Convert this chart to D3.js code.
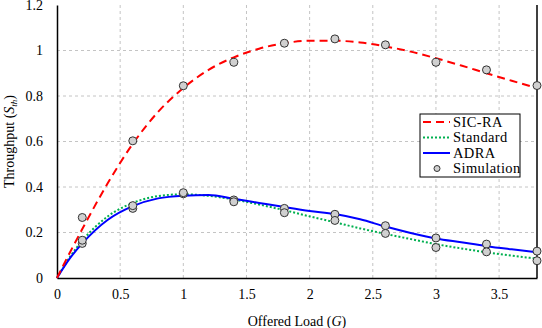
<!DOCTYPE html>
<html>
<head>
<meta charset="utf-8">
<script src="https://cdn.jsdelivr.net/npm/d3@7.9.0/dist/d3.min.js"></script>
<style>
  body { margin: 0; background: #fff; }
  svg { display: block; }
  svg text { font-family: 'Liberation Serif', 'DejaVu Serif', serif; }
</style>
</head>
<body>
<svg id="chart" width="542" height="328"></svg>
<script>
// curve values
const loadG = [0, 0.1, 0.2, 0.4, 0.6, 0.8, 1.0, 1.2, 1.4, 1.6, 1.8, 2.0, 2.2, 2.4, 2.6, 2.8, 3.0, 3.2, 3.4, 3.6, 3.8];
const sicRA = [0, 0.11, 0.215, 0.415, 0.59, 0.73, 0.835, 0.915, 0.97, 1.008, 1.032, 1.043, 1.043, 1.035, 1.018, 0.995, 0.966, 0.934, 0.9, 0.867, 0.835];
const standard = [0, 0.091, 0.164, 0.27, 0.33, 0.36, 0.368, 0.361, 0.345, 0.323, 0.298, 0.271, 0.245, 0.218, 0.194, 0.171, 0.149, 0.13, 0.113, 0.098, 0.085];
const adra = [0, 0.085, 0.152, 0.255, 0.316, 0.35, 0.362, 0.365, 0.348, 0.33, 0.312, 0.295, 0.281, 0.258, 0.226, 0.198, 0.174, 0.157, 0.14, 0.126, 0.113];

// simulation markers
const simG = [0.2, 0.6, 1.0, 1.4, 1.8, 2.2, 2.6, 3.0, 3.4, 3.8];
const simSic = [0.266, 0.603, 0.845, 0.948, 1.032, 1.051, 1.025, 0.948, 0.915, 0.846];
const simAdra = [0.152, 0.306, 0.37, 0.343, 0.306, 0.28, 0.23, 0.176, 0.149, 0.118];
const simStd = [0.166, 0.318, 0.375, 0.335, 0.287, 0.253, 0.196, 0.134, 0.115, 0.076];

const xTicks = [0, 0.5, 1, 1.5, 2, 2.5, 3, 3.5];
const yTicks = [0, 0.2, 0.4, 0.6, 0.8, 1, 1.2];

const svg = d3.select('#chart');
const plotLeft = 57, plotRight = 537, plotTop = 5, plotBottom = 278;

const x = d3.scaleLinear().domain([0, 3.8]).range([plotLeft, plotRight]);
const y = d3.scaleLinear().domain([0, 1.2]).range([plotBottom, plotTop]);

// grid
svg.append('g')
  .selectAll('line')
  .data(xTicks.filter((d) => d > 0))
  .join('line')
  .attr('x1', (d) => x(d)).attr('x2', (d) => x(d))
  .attr('y1', plotTop).attr('y2', plotBottom)
  .attr('stroke', '#c4c4c4')
  .attr('stroke-dasharray', '3,3');

svg.append('g')
  .selectAll('line')
  .data(yTicks.filter((d) => d > 0 && d < 1.2))
  .join('line')
  .attr('x1', plotLeft).attr('x2', plotRight)
  .attr('y1', (d) => y(d)).attr('y2', (d) => y(d))
  .attr('stroke', '#c4c4c4')
  .attr('stroke-dasharray', '3,3');

// axes
const xAxis = svg.append('g')
  .attr('transform', `translate(0,${plotBottom})`)
  .call(d3.axisBottom(x).tickValues(xTicks).tickSize(0).tickPadding(11).tickFormat(d3.format('')));
const yAxis = svg.append('g')
  .attr('transform', `translate(${plotLeft},0)`)
  .call(d3.axisLeft(y).tickValues(yTicks).tickSize(0).tickPadding(14).tickFormat(d3.format('')));

[xAxis, yAxis].forEach((g) => {
  g.attr('font-family', null);
  g.select('.domain').attr('stroke', '#000').attr('stroke-width', 1.5);
  g.selectAll('text')
    .attr('font-size', 14)
    .attr('fill', '#000');
});

svg.append('line')
  .attr('x1', plotRight).attr('x2', plotRight)
  .attr('y1', plotTop).attr('y2', plotBottom)
  .attr('stroke', '#000').attr('stroke-width', 1.5);

// curves
const line = (vals) => d3.line()
  .x((d, i) => x(loadG[i]))
  .y((d) => y(d))
  .curve(d3.curveMonotoneX)(vals);

svg.append('path').attr('d', line(standard))
  .attr('fill', 'none').attr('stroke', '#00b050').attr('stroke-width', 2)
  .attr('stroke-dasharray', '2,2');
svg.append('path').attr('d', line(adra))
  .attr('fill', 'none').attr('stroke', '#0000ff').attr('stroke-width', 2);
svg.append('path').attr('d', line(sicRA))
  .attr('fill', 'none').attr('stroke', '#ff0000').attr('stroke-width', 2)
  .attr('stroke-dasharray', '8,5');

// simulation points
const sims = [simSic, simAdra, simStd];
sims.forEach((series) => {
  svg.append('g')
    .selectAll('circle')
    .data(series)
    .join('circle')
    .attr('cx', (d, i) => x(simG[i]))
    .attr('cy', (d) => y(d))
    .attr('r', 4)
    .attr('fill', '#d0d0d0')
    .attr('stroke', '#333')
    .attr('stroke-width', 1);
});

// legend
const legend = svg.append('g').attr('transform', 'translate(420,114)');
legend.append('rect')
  .attr('width', 100).attr('height', 63)
  .attr('fill', '#fff').attr('stroke', '#000').attr('stroke-width', 1);

const legendItems = [
  { label: 'SIC-RA', color: '#ff0000', dash: '8,5' },
  { label: 'Standard', color: '#00b050', dash: '2,2' },
  { label: 'ADRA', color: '#0000ff', dash: null },
  { label: 'Simulation', color: null, dash: null }
];

legendItems.forEach((d, i) => {
  const cy = 8 + i * 15.5;
  if (d.color) {
    legend.append('line')
      .attr('x1', 3).attr('x2', 30)
      .attr('y1', cy).attr('y2', cy)
      .attr('stroke', d.color).attr('stroke-width', 2)
      .attr('stroke-dasharray', d.dash);
  } else {
    legend.append('circle')
      .attr('cx', 17).attr('cy', cy).attr('r', 3)
      .attr('fill', '#d0d0d0').attr('stroke', '#333');
  }
  legend.append('text')
    .attr('x', 33).attr('y', cy + 4.5)
    .attr('font-size', 14.5)
    .attr('letter-spacing', 0.4)
    .text(d.label);
});

// axis titles
const xt = svg.append('text')
  .attr('x', (plotLeft + plotRight) / 2).attr('y', 326)
  .attr('text-anchor', 'middle')
  .attr('font-size', 14);
xt.append('tspan').text('Offered Load (');
xt.append('tspan').attr('font-style', 'italic').text('G');
xt.append('tspan').text(')');

const yt = svg.append('text')
  .attr('transform', `translate(14,${(plotTop + plotBottom) / 2}) rotate(-90)`)
  .attr('text-anchor', 'middle')
  .attr('font-size', 14);
yt.append('tspan').text('Throughput (');
yt.append('tspan').attr('font-style', 'italic').text('S');
yt.append('tspan').attr('font-style', 'italic').attr('font-size', 9).attr('dy', 3).text('th');
yt.append('tspan').attr('dy', -3).text(')');
</script>
</body>
</html>
